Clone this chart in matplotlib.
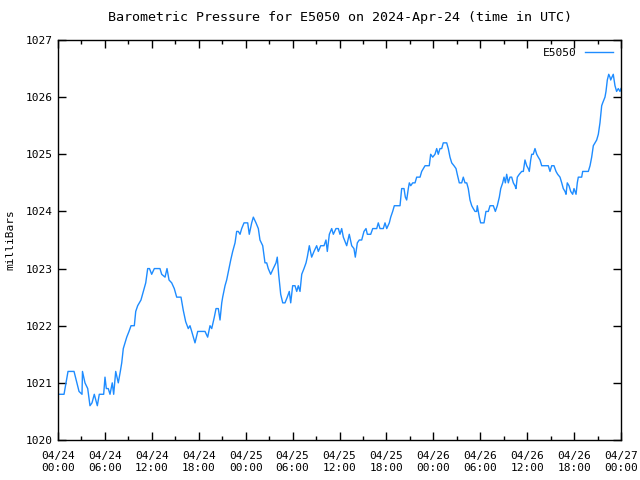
import matplotlib
matplotlib.use("Agg")
import matplotlib.pyplot as plt
from matplotlib.ticker import MultipleLocator

hours = [0.00, 0.77, 1.28, 2.05, 2.69, 3.07, 3.13, 3.45, 3.80, 4.09, 4.35, 4.64, 5.03, 5.28, 5.84,
         6.01, 6.18, 6.43, 6.65, 6.94, 7.12, 7.38, 7.71, 7.97, 8.15, 8.35, 8.57, 8.79, 9.08, 9.34,
         9.76, 9.94, 10.19, 10.61, 10.91, 11.22, 11.47, 11.70, 11.98, 12.32, 13.04, 13.26, 13.69,
         13.94, 14.20, 14.54, 14.87, 15.18, 15.73, 16.02, 16.33, 16.66, 16.88, 17.10, 17.52, 17.87,
         18.80, 19.14, 19.44, 19.66, 19.99, 20.21, 20.50, 20.72, 20.94, 21.06, 21.36, 21.57, 21.87,
         22.09, 22.34, 22.64, 22.85, 23.06, 23.28, 23.49, 23.79, 24.26, 24.46, 24.77, 24.98, 25.32,
         25.62, 25.83, 26.18, 26.47, 26.69, 26.89, 27.20, 27.53, 27.88, 28.04, 28.22, 28.48, 28.74,
         29.03, 29.32, 29.58, 29.76, 30.01, 30.31, 30.53, 30.73, 30.95, 31.17, 31.46, 31.72, 31.88,
         32.14, 32.44, 32.74, 33.08, 33.29, 33.60, 34.02, 34.27, 34.44, 34.70, 35.00, 35.21, 35.55,
         35.85, 36.06, 36.28, 36.49, 36.92, 37.25, 37.56, 37.85, 38.02, 38.28, 38.53, 38.84, 39.13,
         39.39, 39.56, 39.99, 40.25, 40.76, 40.96, 41.18, 41.60, 41.82, 42.04, 42.37, 42.55, 42.80,
         43.01, 43.74, 43.95, 44.25, 44.42, 44.59, 44.80, 44.93, 45.11, 45.36, 45.66, 45.87, 46.30,
         46.51, 46.94, 47.48, 47.66, 47.92, 48.21, 48.43, 48.63, 48.85, 49.07, 49.27, 49.71, 49.91,
         50.13, 50.35, 50.64, 50.90, 51.06, 51.32, 51.63, 51.83, 52.05, 52.27, 52.47, 52.69, 52.91,
         53.11, 53.33, 53.54, 53.62, 53.88, 54.05, 54.48, 54.73, 55.03, 55.25, 55.67, 55.93, 56.18,
         56.44, 56.62, 56.87, 57.04, 57.21, 57.38, 57.59, 57.80, 58.02, 58.23, 58.44, 58.57, 58.74,
         58.99, 59.30, 59.51, 59.72, 59.94, 60.14, 60.27, 60.45, 60.58, 60.78, 61.00, 61.22, 61.42,
         61.64, 61.86, 62.70, 62.92, 63.14, 63.43, 63.69, 63.90, 64.20, 64.42, 64.62, 64.84, 64.97,
         65.13, 65.35, 65.57, 65.82, 65.99, 66.25, 66.41, 66.54, 66.97, 67.10, 67.82, 68.04, 68.25,
         68.46, 68.68, 68.89, 69.10, 69.31, 69.53, 69.66, 69.95, 70.08, 70.25, 70.43, 70.59, 70.68,
         70.84, 71.01, 71.23, 71.44, 71.65, 71.87, 72.00]

pressure = [1020.8, 1020.8, 1021.2, 1021.2, 1020.85, 1020.8, 1021.2, 1021.0, 1020.9, 1020.6, 1020.65,
            1020.8, 1020.6, 1020.8, 1020.8, 1021.1, 1020.9, 1020.9, 1020.8, 1021.0, 1020.8, 1021.2,
            1021.0, 1021.2, 1021.35, 1021.6, 1021.7, 1021.8, 1021.9, 1022.0, 1022.0, 1022.25, 1022.35,
            1022.45, 1022.6, 1022.75, 1023.0, 1023.0, 1022.9, 1023.0, 1023.0, 1022.9, 1022.85, 1023.0,
            1022.8, 1022.75, 1022.65, 1022.5, 1022.5, 1022.27, 1022.07, 1021.95, 1022.0, 1021.9,
            1021.7, 1021.9, 1021.9, 1021.8, 1022.0, 1021.95, 1022.15, 1022.3, 1022.3, 1022.1, 1022.4,
            1022.5, 1022.7, 1022.8, 1023.0, 1023.15, 1023.3, 1023.45, 1023.65, 1023.65, 1023.6,
            1023.7, 1023.8, 1023.8, 1023.6, 1023.8, 1023.9, 1023.8, 1023.7, 1023.5, 1023.4, 1023.1,
            1023.1, 1023.0, 1022.9, 1023.0, 1023.1, 1023.2, 1022.9, 1022.55, 1022.4, 1022.4, 1022.5,
            1022.6, 1022.4, 1022.7, 1022.7, 1022.6, 1022.7, 1022.6, 1022.9, 1023.0, 1023.1, 1023.2,
            1023.4, 1023.2, 1023.3, 1023.4, 1023.3, 1023.4, 1023.4, 1023.5, 1023.3, 1023.6, 1023.7,
            1023.6, 1023.7, 1023.7, 1023.6, 1023.7, 1023.55, 1023.4, 1023.6, 1023.4, 1023.35, 1023.2,
            1023.45, 1023.5, 1023.5, 1023.65, 1023.7, 1023.6, 1023.6, 1023.7, 1023.7, 1023.8, 1023.7,
            1023.7, 1023.8, 1023.7, 1023.8, 1023.9, 1024.0, 1024.1, 1024.1, 1024.4, 1024.4, 1024.25,
            1024.2, 1024.4, 1024.5, 1024.45, 1024.5, 1024.5, 1024.6, 1024.6, 1024.7, 1024.8, 1024.8,
            1025.0, 1024.95, 1025.0, 1025.1, 1025.0, 1025.1, 1025.1, 1025.2, 1025.2, 1025.1, 1024.95,
            1024.85, 1024.8, 1024.75, 1024.65, 1024.5, 1024.5, 1024.6, 1024.5, 1024.5, 1024.4, 1024.2,
            1024.1, 1024.05, 1024.0, 1024.0, 1024.1, 1023.9, 1023.8, 1023.8, 1024.0, 1024.0, 1024.1,
            1024.1, 1024.0, 1024.1, 1024.25, 1024.4, 1024.5, 1024.6, 1024.5, 1024.65, 1024.5, 1024.6,
            1024.6, 1024.5, 1024.45, 1024.4, 1024.6, 1024.65, 1024.7, 1024.7, 1024.9, 1024.8, 1024.75,
            1024.7, 1024.9, 1025.0, 1025.0, 1025.1, 1025.0, 1024.95, 1024.9, 1024.8, 1024.8, 1024.7,
            1024.8, 1024.8, 1024.7, 1024.65, 1024.6, 1024.5, 1024.4, 1024.35, 1024.3, 1024.5, 1024.45,
            1024.35, 1024.3, 1024.4, 1024.3, 1024.5, 1024.6, 1024.6, 1024.7, 1024.7, 1024.8, 1024.95,
            1025.15, 1025.2, 1025.25, 1025.35, 1025.55, 1025.85, 1025.9, 1026.0, 1026.1, 1026.3,
            1026.4, 1026.35, 1026.3, 1026.35, 1026.4, 1026.2, 1026.1, 1026.15, 1026.1, 1026.15]

xtick_hours = [0, 6, 12, 18, 24, 30, 36, 42, 48, 54, 60, 66, 72]
xtick_labels = ["04/24\n00:00", "04/24\n06:00", "04/24\n12:00", "04/24\n18:00",
                "04/25\n00:00", "04/25\n06:00", "04/25\n12:00", "04/25\n18:00",
                "04/26\n00:00", "04/26\n06:00", "04/26\n12:00", "04/26\n18:00",
                "04/27\n00:00"]
yticks = [1020, 1021, 1022, 1023, 1024, 1025, 1026, 1027]

plt.rcParams['font.family'] = ['DejaVu Sans Mono']
plt.rcParams['font.size'] = 8

fig = plt.figure(figsize=(6.4, 4.8), dpi=100)
ax = fig.add_axes([58/640, 40/480, (621-58)/640, 400/480])
ax.plot(hours, pressure, color='#1e8cff', lw=1.0, label='E5050')
ax.set_xlim(0, 72)
ax.set_ylim(1020, 1027)
ax.set_xticks(xtick_hours)
ax.set_xticklabels(xtick_labels)
ax.xaxis.set_minor_locator(MultipleLocator(3))
ax.set_yticks(yticks)
ax.set_yticklabels([str(v) for v in yticks])
ax.tick_params(axis='both', which='both', direction='in', top=True, right=True, width=1)
ax.tick_params(axis='both', which='major', length=6)
ax.tick_params(axis='x', which='minor', length=3)
ax.tick_params(axis='x', which='major', pad=8)
for s in ax.spines.values():
    s.set_linewidth(1)
ax.set_ylabel('milliBars', labelpad=8)
ax.set_title('Barometric Pressure for E5050 on 2024-Apr-24 (time in UTC)', pad=14)
leg = ax.legend(loc='upper right', frameon=False, markerfirst=False, handlelength=2.5,
                borderaxespad=0.3, handletextpad=0.8)
fig.savefig('out.png', dpi=100)
